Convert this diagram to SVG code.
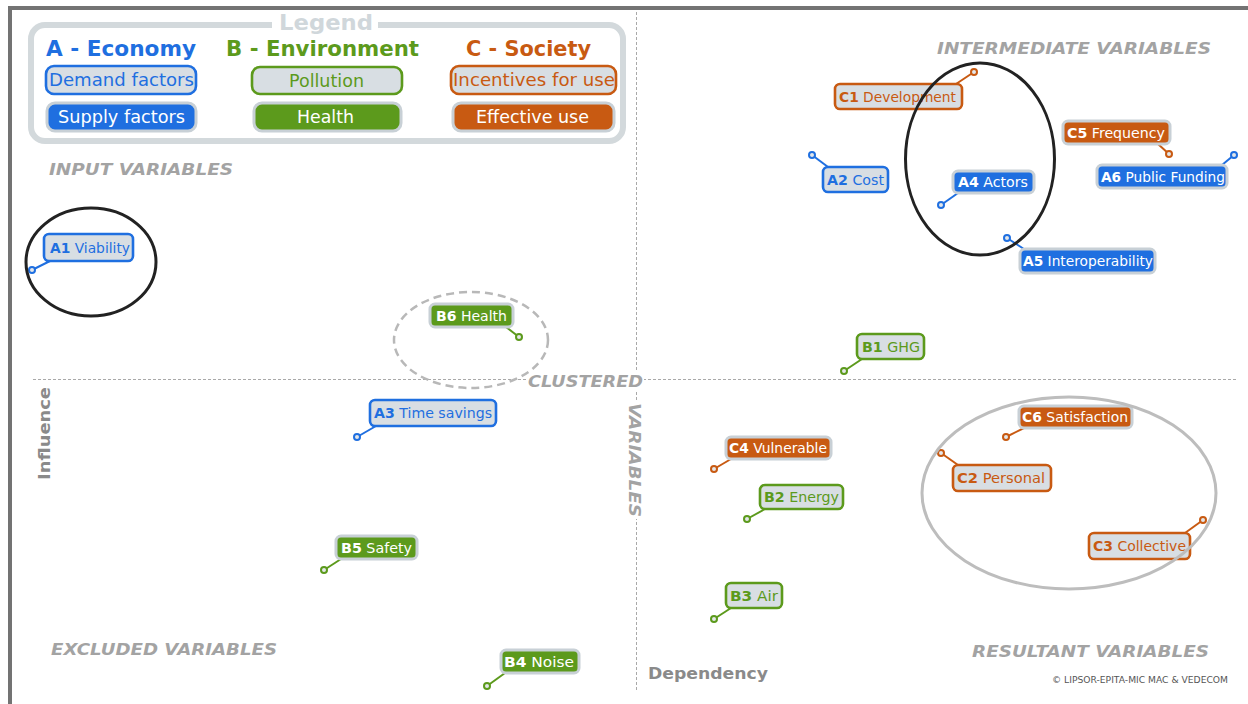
<svg xmlns="http://www.w3.org/2000/svg" width="1248" height="704" viewBox="0 0 1248 704">
<defs>
<style>
.frame{stroke:#737373;stroke-width:4;fill:none}
.ax{stroke:#a9a9a9;stroke-width:1;stroke-dasharray:3 2;fill:none}
.quad{font-family:"DejaVu Sans",Verdana,sans-serif;font-weight:bold;font-style:italic;font-size:16px;fill:#a3a3a3}
.axis{font-family:"DejaVu Sans",Verdana,sans-serif;font-weight:bold;font-size:16px;fill:#8a8a8a}
.lbl{font-family:"DejaVu Sans",Verdana,sans-serif;font-size:14px}
.code{font-weight:bold}
.leg{font-family:"DejaVu Sans",Verdana,sans-serif;font-size:17px}
.head{font-family:"DejaVu Sans",Verdana,sans-serif;font-weight:bold;font-size:21px}
.out rect{fill:#d8dee3;stroke-width:2.6}
.fil rect{stroke:#c8d0d6;stroke-width:3}
.fil text{fill:#ffffff}
.eco.out rect{stroke:#1f6fe0}.eco.out text{fill:#1f6fe0}.eco.fil rect{fill:#1f6fe0}
.env.out rect{stroke:#5c9a1c}.env.out text{fill:#5c9a1c}.env.fil rect{fill:#5c9a1c}
.soc.out rect{stroke:#c85a12}.soc.out text{fill:#c85a12}.soc.fil rect{fill:#c85a12}
.ptr line{stroke-width:2}
.ptr circle{fill:#e4e7ea;stroke-width:2}
.ptr .eco{stroke:#1f6fe0}.ptr .env{stroke:#5c9a1c}.ptr .soc{stroke:#c85a12}
.ring{fill:none;stroke-width:3}
</style>
</defs>
<rect x="0" y="0" width="1248" height="704" fill="#ffffff"/>

<!-- outer frame -->
<path class="frame" d="M10,704 V8 H1248"/>

<!-- quadrant axes -->
<line class="ax" x1="636.5" y1="12" x2="636.5" y2="690"/>
<line class="ax" x1="33" y1="379.5" x2="1236" y2="379.5"/>

<!-- legend -->
<g id="legend">
  <rect x="31" y="25" width="592" height="116" rx="14" fill="#ffffff" stroke="#d3d9dc" stroke-width="6"/>
  <rect x="272" y="14" width="106" height="20" fill="#ffffff"/>
  <text x="279" y="30" font-family="'DejaVu Sans',Verdana,sans-serif" font-weight="bold" font-size="22" fill="#d0d7db" textLength="94" lengthAdjust="spacingAndGlyphs">Legend</text>
  <text class="head" x="46" y="56" fill="#1f6fe0" textLength="150" lengthAdjust="spacingAndGlyphs">A - Economy</text>
  <text class="head" x="226" y="56" fill="#5c9a1c" textLength="193" lengthAdjust="spacingAndGlyphs">B - Environment</text>
  <text class="head" x="466" y="56" fill="#c85a12" textLength="125" lengthAdjust="spacingAndGlyphs">C - Society</text>
  <g class="eco out"><rect x="46" y="66" width="150" height="28" rx="8"/><text class="leg" x="49" y="86" textLength="145" lengthAdjust="spacingAndGlyphs">Demand factors</text></g>
  <g class="eco fil"><rect x="47" y="103" width="149" height="28" rx="8"/><text class="leg" x="58" y="123" textLength="127" lengthAdjust="spacingAndGlyphs">Supply factors</text></g>
  <g class="env out"><rect x="252" y="67" width="150" height="27" rx="8"/><text class="leg" x="289" y="87" textLength="75" lengthAdjust="spacingAndGlyphs">Pollution</text></g>
  <g class="env fil"><rect x="254" y="103" width="147" height="28" rx="8"/><text class="leg" x="297" y="123" textLength="57" lengthAdjust="spacingAndGlyphs">Health</text></g>
  <g class="soc out"><rect x="451" y="66" width="165" height="28" rx="8"/><text class="leg" x="453" y="86" textLength="162" lengthAdjust="spacingAndGlyphs">Incentives for use</text></g>
  <g class="soc fil"><rect x="453" y="103" width="161" height="28" rx="8"/><text class="leg" x="476" y="123" textLength="113" lengthAdjust="spacingAndGlyphs">Effective use</text></g>
</g>

<!-- quadrant titles -->
<text class="quad" x="49" y="175" textLength="184" lengthAdjust="spacingAndGlyphs">INPUT VARIABLES</text>
<text class="quad" x="937" y="54" textLength="274" lengthAdjust="spacingAndGlyphs">INTERMEDIATE VARIABLES</text>
<text class="quad" x="51" y="655" textLength="226" lengthAdjust="spacingAndGlyphs">EXCLUDED VARIABLES</text>
<text class="quad" x="972" y="657" textLength="237" lengthAdjust="spacingAndGlyphs">RESULTANT VARIABLES</text>
<rect x="526" y="372" width="118" height="18" fill="#ffffff"/>
<text class="quad" x="528" y="387" textLength="115" lengthAdjust="spacingAndGlyphs">CLUSTERED</text>
<rect x="627" y="401" width="19" height="118" fill="#ffffff"/>
<text class="quad" transform="translate(629,403) rotate(90)" x="0" y="0" textLength="114" lengthAdjust="spacingAndGlyphs">VARIABLES</text>

<!-- axis names -->
<text class="axis" transform="translate(50,480) rotate(-90)" x="0" y="0" textLength="93" lengthAdjust="spacingAndGlyphs">Influence</text>
<text class="axis" x="648" y="679" textLength="120" lengthAdjust="spacingAndGlyphs">Dependency</text>
<text x="1052" y="683" font-family="'DejaVu Sans',Verdana,sans-serif" font-size="9" fill="#555555" textLength="176" lengthAdjust="spacingAndGlyphs">© LIPSOR-EPITA-MIC MAC &amp; VEDECOM</text>

<!-- pointers from labels to plotted positions -->
<g id="connectors" class="ptr">
  <line class="eco" x1="50" y1="261" x2="32" y2="270"/>
  <line class="env" x1="506" y1="327" x2="519" y2="337"/>
  <line class="eco" x1="376" y1="426" x2="357" y2="437"/>
  <line class="eco" x1="828" y1="167" x2="812" y2="155"/>
  <line class="soc" x1="956" y1="84" x2="974" y2="72"/>
  <line class="eco" x1="958" y1="193" x2="941" y2="205"/>
  <line class="soc" x1="1158" y1="144" x2="1169" y2="154"/>
  <line class="eco" x1="1222" y1="165" x2="1234" y2="155"/>
  <line class="eco" x1="1024" y1="249" x2="1007" y2="238"/>
  <line class="env" x1="862" y1="359" x2="844" y2="371"/>
  <line class="soc" x1="1024" y1="428" x2="1006" y2="437"/>
  <line class="soc" x1="731" y1="459" x2="714" y2="469"/>
  <line class="soc" x1="958" y1="465" x2="941" y2="453"/>
  <line class="env" x1="765" y1="509" x2="747" y2="519"/>
  <line class="soc" x1="1185" y1="533" x2="1203" y2="520"/>
  <line class="env" x1="341" y1="559" x2="324" y2="570"/>
  <line class="env" x1="731" y1="608" x2="714" y2="619"/>
  <line class="env" x1="505" y1="673" x2="487" y2="686"/>
  <circle class="eco" cx="32" cy="270" r="3"/>
  <circle class="env" cx="519" cy="337" r="3"/>
  <circle class="eco" cx="357" cy="437" r="3"/>
  <circle class="eco" cx="812" cy="155" r="3"/>
  <circle class="soc" cx="974" cy="72" r="3"/>
  <circle class="eco" cx="941" cy="205" r="3"/>
  <circle class="soc" cx="1169" cy="154" r="3"/>
  <circle class="eco" cx="1234" cy="155" r="3"/>
  <circle class="eco" cx="1007" cy="238" r="3"/>
  <circle class="env" cx="844" cy="371" r="3"/>
  <circle class="soc" cx="1006" cy="437" r="3"/>
  <circle class="soc" cx="714" cy="469" r="3"/>
  <circle class="soc" cx="941" cy="453" r="3"/>
  <circle class="env" cx="747" cy="519" r="3"/>
  <circle class="soc" cx="1203" cy="520" r="3"/>
  <circle class="env" cx="324" cy="570" r="3"/>
  <circle class="env" cx="714" cy="619" r="3"/>
  <circle class="env" cx="487" cy="686" r="3"/>
</g>

<!-- variables -->
<g id="A1" class="eco out"><rect x="44" y="234" width="89" height="27" rx="5"/><text class="lbl" x="50" y="252.5" textLength="80" lengthAdjust="spacingAndGlyphs"><tspan class="code">A1</tspan> Viability</text></g>
<g id="B6" class="env fil"><rect x="430" y="304" width="83" height="23" rx="5"/><text class="lbl" x="436" y="320.5" textLength="71" lengthAdjust="spacingAndGlyphs"><tspan class="code">B6</tspan> Health</text></g>
<g id="A3" class="eco out"><rect x="370" y="400" width="126" height="26" rx="5"/><text class="lbl" x="374" y="418" textLength="118" lengthAdjust="spacingAndGlyphs"><tspan class="code">A3</tspan> Time savings</text></g>
<g id="A2" class="eco out"><rect x="823" y="167" width="65" height="25" rx="5"/><text class="lbl" x="827" y="184.5" textLength="57" lengthAdjust="spacingAndGlyphs"><tspan class="code">A2</tspan> Cost</text></g>
<g id="C1" class="soc out"><rect x="835" y="84" width="127" height="25" rx="5"/><text class="lbl" x="839" y="101.5" textLength="117" lengthAdjust="spacingAndGlyphs"><tspan class="code">C1</tspan> Development</text></g>
<g id="A4" class="eco fil"><rect x="953" y="171" width="81" height="22" rx="5"/><text class="lbl" x="958" y="187" textLength="70" lengthAdjust="spacingAndGlyphs"><tspan class="code">A4</tspan> Actors</text></g>
<g id="C5" class="soc fil"><rect x="1063" y="121" width="107" height="23" rx="5"/><text class="lbl" x="1067" y="137.5" textLength="98" lengthAdjust="spacingAndGlyphs"><tspan class="code">C5</tspan> Frequency</text></g>
<g id="A6" class="eco fil"><rect x="1097" y="165" width="130" height="23" rx="5"/><text class="lbl" x="1101" y="181.5" textLength="124" lengthAdjust="spacingAndGlyphs"><tspan class="code">A6</tspan> Public Funding</text></g>
<g id="A5" class="eco fil"><rect x="1020" y="249" width="135" height="24" rx="5"/><text class="lbl" x="1023" y="266" textLength="130" lengthAdjust="spacingAndGlyphs"><tspan class="code">A5</tspan> Interoperability</text></g>
<g id="B1" class="env out"><rect x="857" y="334" width="67" height="25" rx="5"/><text class="lbl" x="862" y="351.5" textLength="58" lengthAdjust="spacingAndGlyphs"><tspan class="code">B1</tspan> GHG</text></g>
<g id="C6" class="soc fil"><rect x="1019" y="406" width="113" height="22" rx="5"/><text class="lbl" x="1022" y="422" textLength="106" lengthAdjust="spacingAndGlyphs"><tspan class="code">C6</tspan> Satisfaction</text></g>
<g id="C4" class="soc fil"><rect x="726" y="437" width="105" height="22" rx="5"/><text class="lbl" x="729" y="453" textLength="98" lengthAdjust="spacingAndGlyphs"><tspan class="code">C4</tspan> Vulnerable</text></g>
<g id="C2" class="soc out"><rect x="953" y="465" width="98" height="26" rx="5"/><text class="lbl" x="957" y="483" textLength="88" lengthAdjust="spacingAndGlyphs"><tspan class="code">C2</tspan> Personal</text></g>
<g id="B2" class="env out"><rect x="760" y="485" width="83" height="24" rx="5"/><text class="lbl" x="764" y="502" textLength="75" lengthAdjust="spacingAndGlyphs"><tspan class="code">B2</tspan> Energy</text></g>
<g id="C3" class="soc out"><rect x="1089" y="533" width="101" height="26" rx="5"/><text class="lbl" x="1093" y="551" textLength="93" lengthAdjust="spacingAndGlyphs"><tspan class="code">C3</tspan> Collective</text></g>
<g id="B5" class="env fil"><rect x="336" y="536" width="81" height="23" rx="5"/><text class="lbl" x="341" y="552.5" textLength="71" lengthAdjust="spacingAndGlyphs"><tspan class="code">B5</tspan> Safety</text></g>
<g id="B3" class="env out"><rect x="726" y="583" width="56" height="25" rx="5"/><text class="lbl" x="730" y="600.5" textLength="48" lengthAdjust="spacingAndGlyphs"><tspan class="code">B3</tspan> Air</text></g>
<g id="B4" class="env fil"><rect x="501" y="650" width="78" height="23" rx="5"/><text class="lbl" x="504" y="666.5" textLength="70" lengthAdjust="spacingAndGlyphs"><tspan class="code">B4</tspan> Noise</text></g>

<!-- groupings -->
<g id="groupings">
  <ellipse class="ring" cx="91" cy="262" rx="65" ry="54" stroke="#222222"/>
  <ellipse class="ring" cx="980" cy="159" rx="74.5" ry="96" stroke="#222222"/>
  <ellipse cx="471" cy="340" rx="77" ry="48" fill="none" stroke="#b8b8b8" stroke-width="2.5" stroke-dasharray="8 5"/>
  <ellipse class="ring" cx="1069" cy="493" rx="147" ry="96" stroke="#bdbdbd"/>
</g>
</svg>
